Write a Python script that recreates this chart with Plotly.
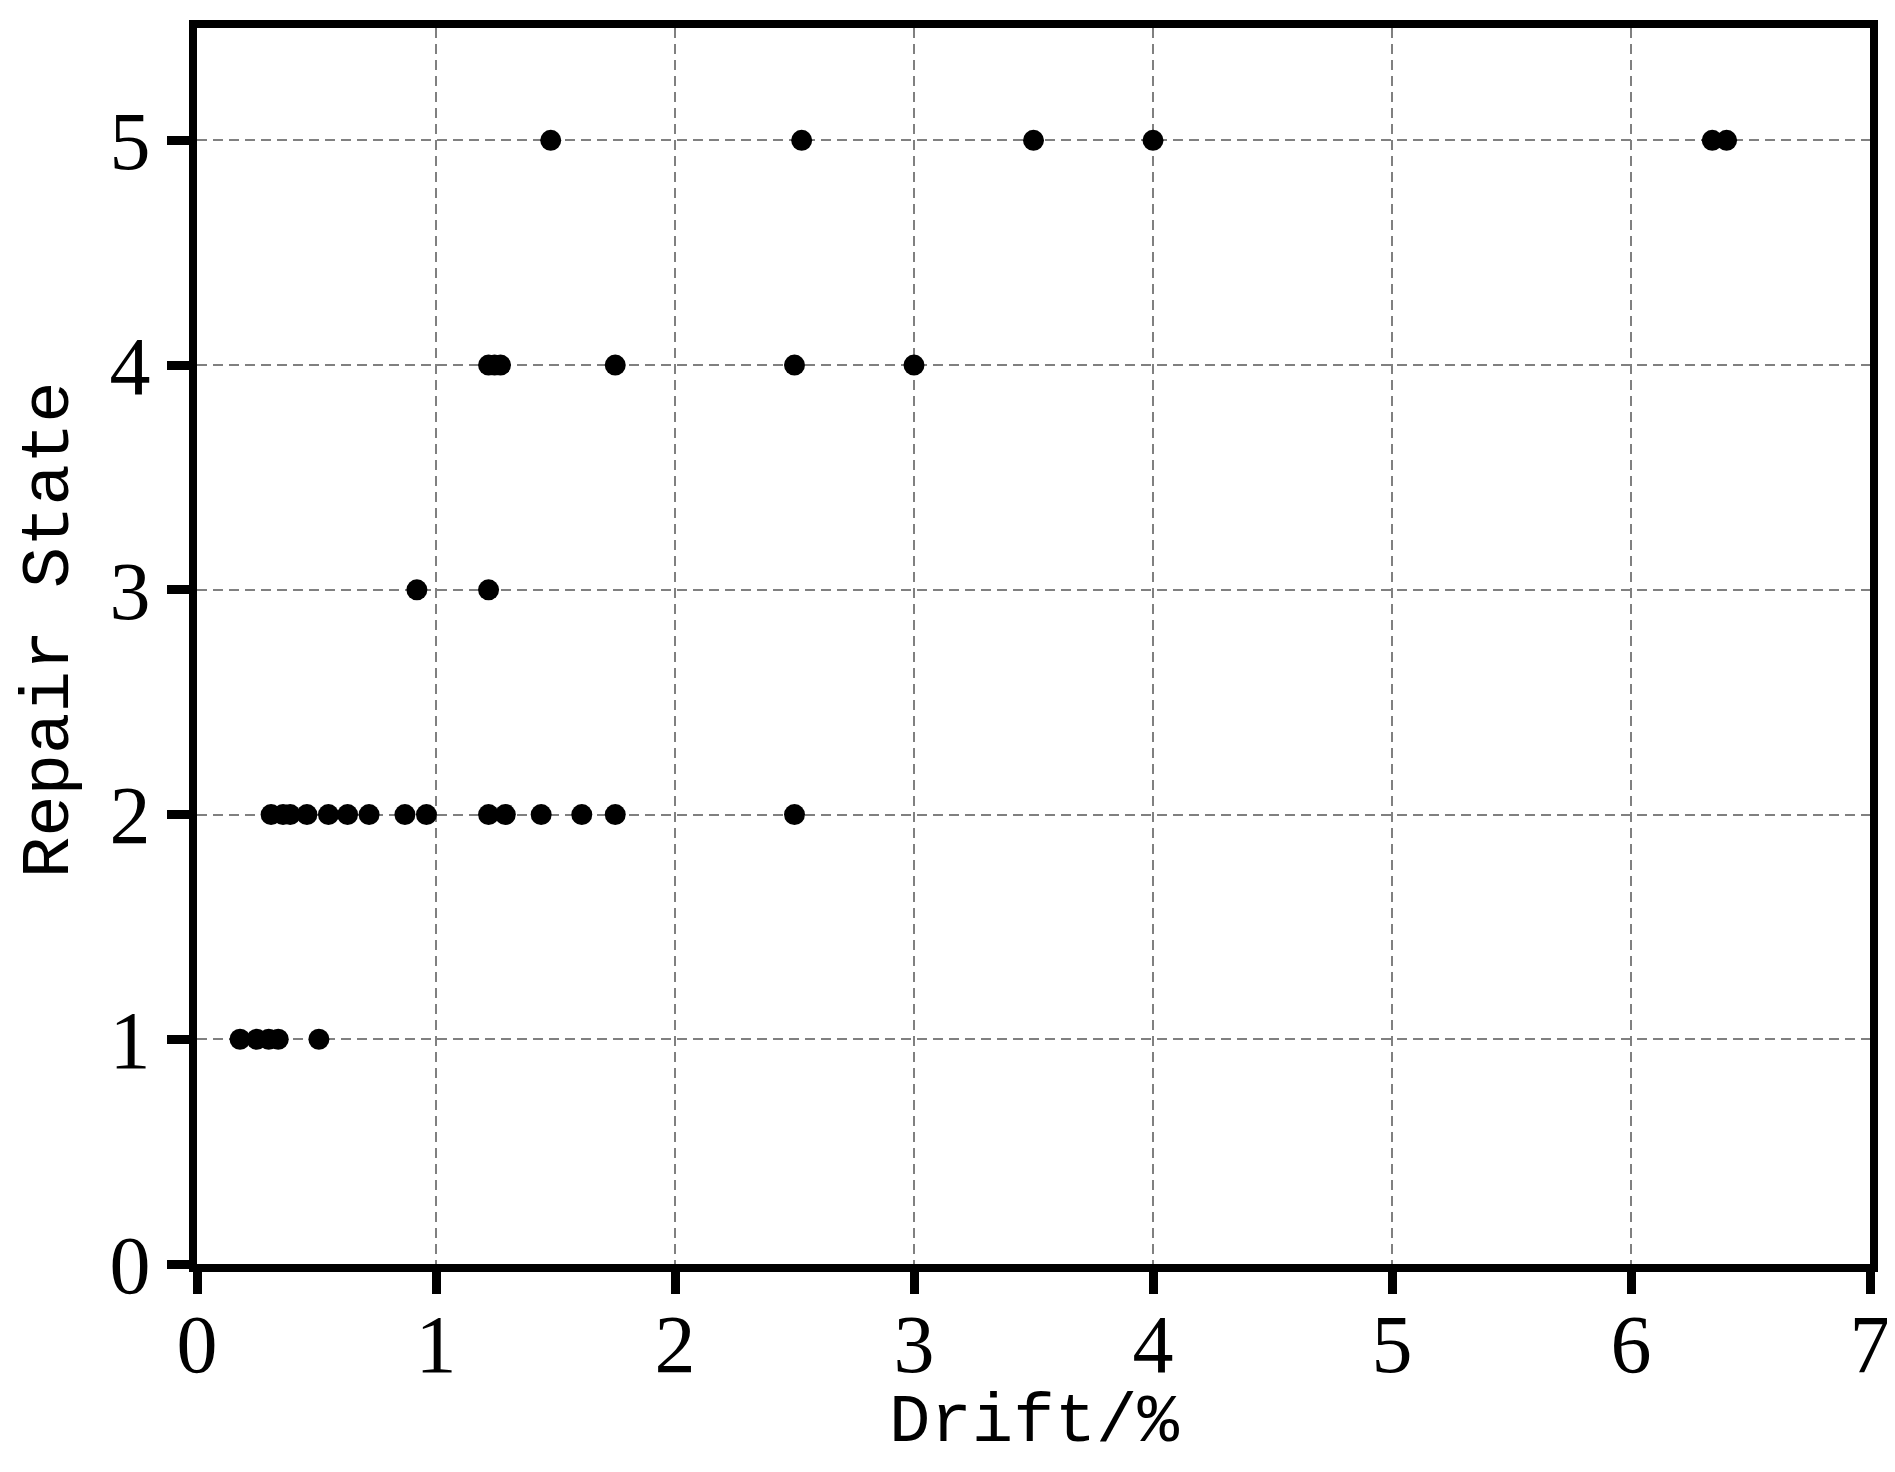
import plotly.graph_objects as go

# Repair state level 1..5 and corresponding drift values (%)
drift_state1 = [0.18, 0.25, 0.30, 0.34, 0.51]
drift_state2 = [0.31, 0.36, 0.39, 0.46, 0.55, 0.63, 0.72, 0.87, 0.96, 1.22, 1.29, 1.44, 1.61, 1.75, 2.50]
drift_state3 = [0.92, 1.22]
drift_state4 = [1.22, 1.245, 1.27, 1.75, 2.50, 3.00]
drift_state5 = [1.48, 2.53, 3.50, 4.00, 6.34, 6.40]

x_ticks = [0, 1, 2, 3, 4, 5, 6, 7]
y_ticks = [0, 1, 2, 3, 4, 5]
x_title = "Drift/%"
y_title = "Repair State"

xs, ys = [], []
for state, vals in zip([1, 2, 3, 4, 5], [drift_state1, drift_state2, drift_state3, drift_state4, drift_state5]):
    xs += vals
    ys += [state] * len(vals)

fig = go.Figure()
fig.add_trace(go.Scatter(
    x=xs, y=ys, mode="markers",
    marker=dict(color="black", size=21, line=dict(width=0)),
    showlegend=False,
))

tickfont = dict(family="Liberation Serif, Times New Roman, serif", size=82, color="black")
titlefont = dict(family="Liberation Mono, Courier New, monospace", size=69, color="black")

axis_common = dict(
    showline=True, linewidth=8, linecolor="black", mirror=True,
    ticks="outside", ticklen=22, tickwidth=9, tickcolor="black",
    showgrid=True, gridcolor="#808080", gridwidth=2, griddash="10px,6px",
    zeroline=False, tickfont=tickfont,
)

fig.update_xaxes(range=[0, 7], tickvals=x_ticks, ticktext=[str(v) for v in x_ticks],
                 ticklabelstandoff=-20, **axis_common)
fig.update_yaxes(range=[0, 5.5], tickvals=y_ticks, ticktext=[str(v) for v in y_ticks],
                 ticklabelstandoff=0, **axis_common)

# page body has an 8px default margin; compensate so the plot lands where intended
L, R, T, B = 189, 32, 12, 216
plot_w = 1895 - L - R
plot_h = 1472 - T - B

fig.add_annotation(text=x_title, xref="paper", yref="paper", x=0.5,
                   y=-(1424 - 1264) / plot_h, xanchor="center", yanchor="middle",
                   showarrow=False, font=titlefont)
fig.add_annotation(text=y_title, xref="paper", yref="paper", x=-(197 - 50) / plot_w,
                   y=0.5 + (642 - 626) / plot_h, xanchor="center", yanchor="middle",
                   textangle=-90, showarrow=False, font=titlefont)

fig.update_layout(
    width=1895, height=1472,
    margin=dict(l=L, r=R, t=T, b=B),
    plot_bgcolor="white", paper_bgcolor="white",
)

fig.write_html("out.html")
